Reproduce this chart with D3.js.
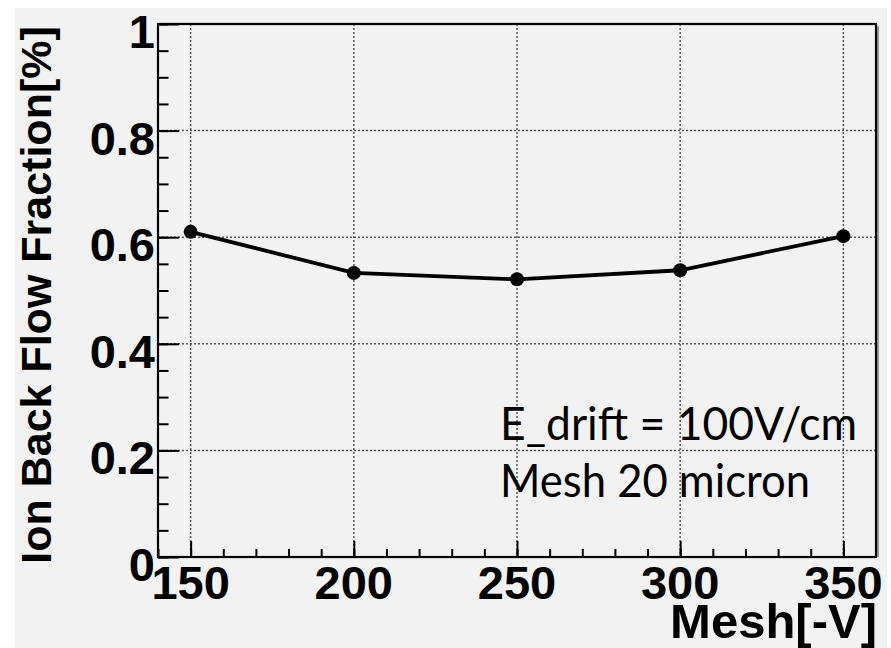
<!DOCTYPE html>
<html>
<head>
<meta charset="utf-8">
<script src="https://cdn.jsdelivr.net/npm/d3@7"></script>
<style>
html,body{margin:0;padding:0;background:#fff;}
svg{display:block;}
</style>
</head>
<body>
<svg id="chart" width="891" height="648"></svg>
<script>
// Data
const meshVoltages = [150, 200, 250, 300, 350];
const ibfValues = [0.610, 0.533, 0.521, 0.538, 0.602];
const xTickValues = [150, 200, 250, 300, 350];
const yTickValues = [0, 0.2, 0.4, 0.6, 0.8, 1];
const yTickLabels = ["0", "0.2", "0.4", "0.6", "0.8", "1"];
const xTitle = "Mesh[-V]";
const yTitle = "Ion Back Flow Fraction[%]";
const noteLines = ["E_drift = 100V/cm", "Mesh 20 micron"];

const svg = d3.select("#chart");
const frame = {left: 158, top: 24, right: 876, bottom: 557};

// canvas background
svg.append("rect").attr("x", 15).attr("y", 8).attr("width", 872).attr("height", 640).attr("fill", "#f2f2f2");

const x = d3.scaleLinear().domain([140, 360]).range([frame.left, frame.right]);
const y = d3.scaleLinear().domain([0, 1]).range([frame.bottom, frame.top]);

// grid
const grid = svg.append("g").attr("stroke", "#5a5a5a").attr("stroke-width", 1.5).attr("stroke-dasharray", "2,2");
xTickValues.forEach(v => {
  grid.append("line").attr("x1", x(v)).attr("x2", x(v)).attr("y1", frame.top).attr("y2", frame.bottom);
});
yTickValues.forEach(v => {
  grid.append("line").attr("x1", frame.left).attr("x2", frame.right).attr("y1", y(v)).attr("y2", y(v));
});

// ticks via d3 axes (inner ticks)
const xMinor = d3.range(140, 361, 10);
const yMinor = d3.range(0, 1.0001, 0.05);
const xAxisMinor = d3.axisTop(x).tickValues(xMinor).tickSize(8).tickFormat("");
const xAxisMajor = d3.axisTop(x).tickValues(xTickValues).tickSize(16).tickFormat("");
const yAxisMinor = d3.axisRight(y).tickValues(yMinor).tickSize(10.5).tickFormat("");
const yAxisMajor = d3.axisRight(y).tickValues(yTickValues).tickSize(21).tickFormat("");
[xAxisMinor, xAxisMajor].forEach(a => {
  const g = svg.append("g").attr("transform", `translate(0,${frame.bottom})`).call(a);
  g.select(".domain").remove();
  g.selectAll("line").attr("stroke", "#000").attr("stroke-width", 2);
});
[yAxisMinor, yAxisMajor].forEach(a => {
  const g = svg.append("g").attr("transform", `translate(${frame.left},0)`).call(a);
  g.select(".domain").remove();
  g.selectAll("line").attr("stroke", "#000").attr("stroke-width", 2);
});

// frame
svg.append("line").attr("x1", frame.right + 2).attr("x2", frame.right + 2).attr("y1", frame.top + 2).attr("y2", frame.bottom).attr("stroke", "#999").attr("stroke-width", 2);
svg.append("rect").attr("x", frame.left).attr("y", frame.top).attr("width", frame.right - frame.left).attr("height", frame.bottom - frame.top)
  .attr("fill", "none").attr("stroke", "#000").attr("stroke-width", 2.2);

// tick labels
const labelFont = "'Liberation Sans', Arial, Helvetica, sans-serif";
svg.append("g").selectAll("text").data(xTickValues).join("text")
  .attr("x", d => x(d)).attr("y", 599)
  .attr("text-anchor", "middle")
  .attr("font-family", labelFont).attr("font-weight", "bold").attr("font-size", 47)
  .attr("fill", "#000")
  .text(d => d);

svg.append("g").selectAll("text").data(yTickValues).join("text")
  .attr("x", 155).attr("y", d => y(d) + 24)
  .attr("text-anchor", "end")
  .attr("font-family", labelFont).attr("font-weight", "bold").attr("font-size", 47)
  .attr("fill", "#000")
  .text((d, i) => yTickLabels[i]);

// axis titles
svg.append("text").attr("x", 877).attr("y", 638).attr("text-anchor", "end")
  .attr("font-family", labelFont).attr("font-weight", "bold").attr("font-size", 49)
  .attr("fill", "#000").text(xTitle);

svg.append("text").attr("transform", "translate(51,295) rotate(-90)").attr("text-anchor", "middle")
  .attr("font-family", labelFont).attr("font-weight", "bold").attr("font-size", 43)
  .attr("fill", "#000").text(yTitle);

// data line
const line = d3.line().x((d, i) => x(meshVoltages[i])).y(d => y(d));
svg.append("path").datum(ibfValues).attr("d", line).attr("fill", "none").attr("stroke", "#000").attr("stroke-width", 3.8);
svg.append("g").selectAll("circle").data(ibfValues).join("circle")
  .attr("cx", (d, i) => x(meshVoltages[i])).attr("cy", d => y(d)).attr("r", 7).attr("fill", "#000");

// annotation
const noteFont = "'Gill Sans', Lato, 'Open Sans', sans-serif";
const noteLen = [357, 310];
svg.append("g").selectAll("text").data(noteLines).join("text")
  .attr("x", 500).attr("y", (d, i) => 440 + i * 57)
  .attr("font-family", noteFont).attr("font-size", 46).attr("fill", "#000")
  .attr("textLength", (d, i) => noteLen[i]).attr("lengthAdjust", "spacingAndGlyphs")
  .text(d => d);
</script>
</body>
</html>
